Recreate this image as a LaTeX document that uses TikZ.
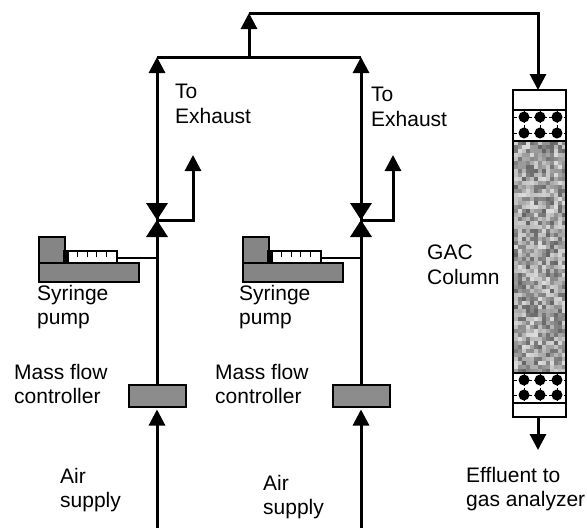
\documentclass[tikz,border=0pt]{standalone}
\usepackage{fontspec}
\setmainfont{Liberation Sans}
\usetikzlibrary{arrows.meta}
\tikzset{
  pipe/.style={line width=3pt},
  flow/.style={pipe,-{Triangle[length=16pt,width=16pt]}},
  lbl/.style={anchor=north west,align=left,inner sep=0pt,font=\fontsize{21}{24.5}\selectfont},
  mfcbox/.style={draw,line width=2pt,fill=black!45,minimum width=57pt,minimum height=22pt,inner sep=0pt},
  bodyfill/.style={draw,line width=1.2pt,fill=black!48},
  bead/.style={circle,fill=black,minimum size=11pt,inner sep=0pt},
}
\newcommand{\valve}[1]{%
  \fill (#1) ++(-11,-17) -- ++(22,0) -- ++(-22,34) -- ++(22,0) -- cycle;}
\newcommand{\syringe}[2]{%
  \begin{scope}[shift={(#1,0)}]
    \draw[bodyfill] (39,237) rectangle (65,263);
    \draw[bodyfill] (39,263) rectangle (139,282);
    \draw[line width=1.2pt,fill=white] (68,251) rectangle (117,263);
    \fill (63,250) rectangle (68,263);
    \foreach \t in {77,87,96,106}
      \draw[line width=.8pt] (\t,251) -- (\t,257);
    \draw[line width=1.2pt] (117,258) -- (#2,258);
  \end{scope}}
\begin{document}
\begin{tikzpicture}[x=1pt,y=-1pt]
  \useasboundingbox (0,0) rectangle (587,528);
  % two air lines
  \coordinate (v1) at (157,220);
  \coordinate (v2) at (361,220);
  \node[mfcbox] (mfc1) at (157,395.5) {};
  \node[mfcbox] (mfc2) at (361,395.5) {};
  \coordinate (air1) at (157,528);
  \coordinate (air2) at (361,528);
  \coordinate (t1) at (157,57);
  \coordinate (t2) at (361,57);
  \coordinate (tm) at (249,57);
  \coordinate (top) at (249,13);
  \coordinate (tr) at (538,13);
  \coordinate (in) at (538,90);
  \coordinate (e1) at (193,155);
  \coordinate (e2) at (393,155);
  \draw[flow,shorten >=2pt] (air1) -- (mfc1.south);
  \draw[flow,shorten >=2pt] (air2) -- (mfc2.south);
  \draw[pipe] (mfc1.north) -- (v1);
  \draw[pipe] (mfc2.north) -- (v2);
  \draw[flow] (v1) -- (t1);
  \draw[flow] (v2) -- (t2);
  \draw[flow] (v1) -| (e1);
  \draw[flow] (v2) -| (e2);
  \draw[pipe] (t1) -- (t2);
  \draw[flow] (tm) -- (top);
  \draw[flow] (top) -- (tr) -- (in);
  \valve{v1}
  \valve{v2}
  % pumps
  \syringe{0}{157}
  \syringe{204}{157}
  % column
  \pgfmathsetseed{7}
  \foreach \x in {514,518,...,562}
    \foreach \y in {141,145,...,369} {
      \pgfmathsetmacro{\lev}{int(random(14,60))}
      \fill[black!\lev] (\x,\y) rectangle (\x+4,\y+4);
    }
  \foreach \y in {117,133,380,395} {
    \draw[densely dashed,line width=.9pt] (514,\y) -- (565,\y);
    \foreach \x in {524,540,557}
      \node[bead] (b\x-\y) at (\x,\y) {};
  }
  \foreach \x in {524,540,557} {
    \draw[densely dashed,line width=.9pt] (\x,110) -- (\x,141);
    \draw[densely dashed,line width=.9pt] (\x,373) -- (\x,403);
  }
  \draw[line width=1.4pt] (513,110) -- (566,110);
  \draw[line width=1.4pt] (513,141) -- (566,141);
  \draw[line width=1.4pt] (513,373) -- (566,373);
  \draw[line width=1.4pt] (513,403) -- (566,403);
  \node[draw,line width=2.6pt,minimum width=53pt,minimum height=327pt,inner sep=0pt] (col) at (539.5,253.5) {};
  \coordinate (out) at (538,450);
  \draw[flow] (col.south -| out) -- (out);
  % labels
  \node[lbl] (exh1) at (175,84) {To\\Exhaust};
  \node[lbl] (exh2) at (371,87) {To\\Exhaust};
  \node[lbl] (syr1) at (37,285) {Syringe\\pump};
  \node[lbl] (syr2) at (239,285) {Syringe\\pump};
  \node[lbl] (ml1) at (14,364) {Mass flow\\controller};
  \node[lbl] (ml2) at (215,364) {Mass flow\\controller};
  \node[lbl] (as1) at (60,468) {Air\\supply};
  \node[lbl] (as2) at (263,475) {Air\\supply};
  \node[lbl] (gac) at (427,245) {GAC\\Column};
  \node[lbl] (eff) at (466,467) {Effluent to\\gas analyzer};
\end{tikzpicture}
\end{document}
